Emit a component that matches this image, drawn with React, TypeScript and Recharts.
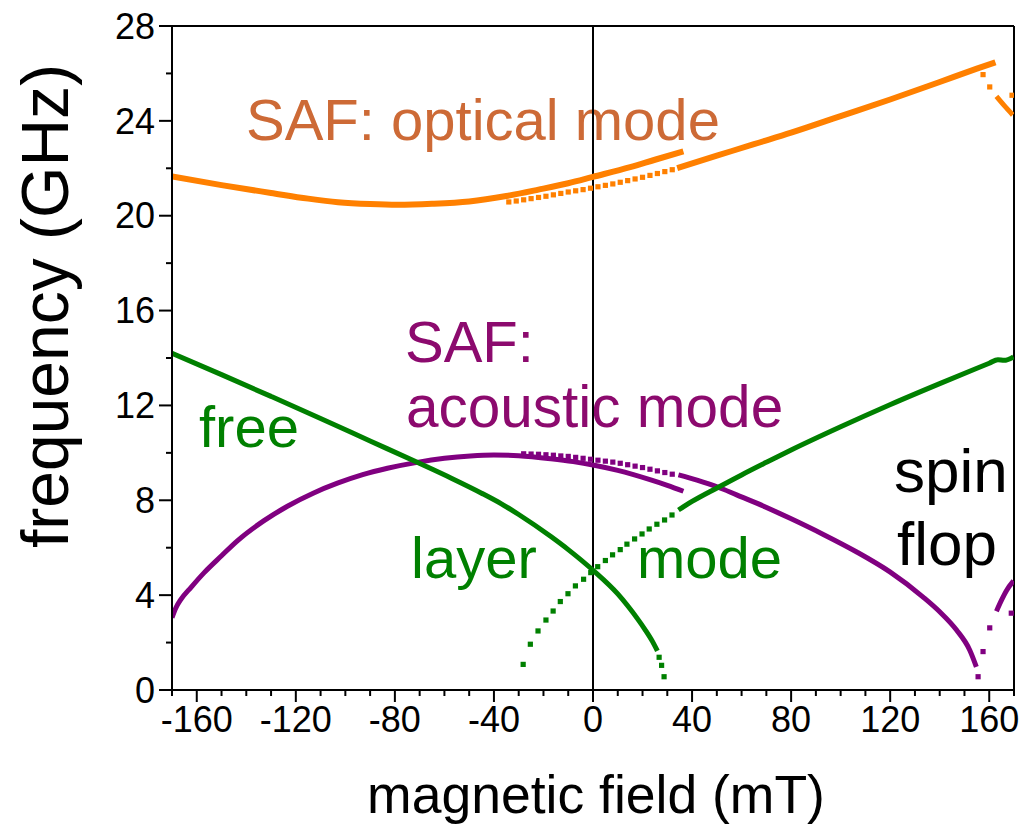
import React from 'react';
import { ComposedChart, Line, Scatter, XAxis, YAxis, ReferenceLine } from 'recharts';

const FONT = "'Liberation Sans', Arial, Helvetica, sans-serif";

// axis ticks
const xTicks = [-170, -160, -150, -140, -130, -120, -110, -100, -90, -80, -70, -60, -50, -40, -30, -20, -10, 0, 10, 20, 30, 40, 50, 60, 70, 80, 90, 100, 110, 120, 130, 140, 150, 160, 170];
const xMajor = [-160, -120, -80, -40, 0, 40, 80, 120, 160];
const yTicks = [0, 2, 4, 6, 8, 10, 12, 14, 16, 18, 20, 22, 24, 26, 28];
const yMajor = [0, 4, 8, 12, 16, 20, 24, 28];

// SAF optical mode (orange)
const orangeUpper = [
  { x: -170, y: 21.66 }, { x: -150, y: 21.29 }, { x: -130, y: 20.96 }, { x: -115, y: 20.72 },
  { x: -103, y: 20.57 }, { x: -90, y: 20.49 }, { x: -79, y: 20.46 }, { x: -65, y: 20.5 },
  { x: -50, y: 20.6 }, { x: -35, y: 20.83 }, { x: -22, y: 21.1 }, { x: -10, y: 21.37 },
  { x: 0, y: 21.64 }, { x: 15, y: 22.05 }, { x: 25, y: 22.36 }, { x: 36.5, y: 22.71 },
];
const orangeLowerDots = [
  { x: -34, y: 20.58 }, { x: -31, y: 20.62 }, { x: -28, y: 20.67 }, { x: -25, y: 20.72 },
  { x: -22, y: 20.77 }, { x: -19, y: 20.82 }, { x: -16, y: 20.88 }, { x: -13, y: 20.94 },
  { x: -10, y: 21.0 }, { x: -7, y: 21.05 }, { x: -4, y: 21.1 }, { x: -1, y: 21.16 },
  { x: 2, y: 21.22 }, { x: 5, y: 21.28 }, { x: 8, y: 21.34 }, { x: 11, y: 21.41 },
  { x: 14, y: 21.48 }, { x: 17, y: 21.55 }, { x: 20, y: 21.62 }, { x: 23, y: 21.7 },
  { x: 26, y: 21.78 }, { x: 29, y: 21.86 }, { x: 32, y: 21.94 },
];
const orangeHigh = [
  { x: 34, y: 22.01 }, { x: 50, y: 22.53 }, { x: 65, y: 23.02 }, { x: 80, y: 23.5 },
  { x: 100, y: 24.2 }, { x: 120, y: 24.9 }, { x: 140, y: 25.64 }, { x: 155, y: 26.2 },
  { x: 162.5, y: 26.47 },
];
const orangeDropDots = [{ x: 157.5, y: 25.95 }, { x: 160.2, y: 25.43 }, { x: 169.2, y: 25.08 }];
const orangeDropLine = [{ x: 162.9, y: 25.03 }, { x: 166, y: 24.65 }, { x: 169.5, y: 24.25 }];

// free layer mode (green)
const greenFree = [
  { x: -170, y: 14.2 }, { x: -150, y: 13.3 }, { x: -130, y: 12.38 }, { x: -110, y: 11.45 },
  { x: -90, y: 10.5 }, { x: -71, y: 9.6 }, { x: -57, y: 8.92 }, { x: -45, y: 8.3 },
  { x: -37, y: 7.85 }, { x: -30, y: 7.4 }, { x: -17, y: 6.47 }, { x: -10, y: 5.92 },
  { x: 0, y: 5.05 }, { x: 10, y: 4.05 }, { x: 14, y: 3.55 }, { x: 18, y: 3.0 },
  { x: 21, y: 2.55 }, { x: 24, y: 2.05 }, { x: 26, y: 1.65 },
];
const greenFreeDots = [{ x: 26.7, y: 1.38 }, { x: 27.7, y: 1.04 }, { x: 28.7, y: 0.56 }];
const greenRiseDots = [
  { x: -28.2, y: 1.08 }, { x: -25.3, y: 1.93 }, { x: -22.2, y: 2.49 }, { x: -19, y: 2.95 },
  { x: -16.1, y: 3.33 }, { x: -13.2, y: 3.73 }, { x: -10.1, y: 4.06 }, { x: -7.1, y: 4.39 },
  { x: -3.8, y: 4.67 }, { x: -0.9, y: 4.95 }, { x: 1.9, y: 5.2 }, { x: 5, y: 5.46 },
  { x: 7.9, y: 5.7 }, { x: 11, y: 5.92 }, { x: 13.7, y: 6.15 }, { x: 16.8, y: 6.37 },
  { x: 19.8, y: 6.58 }, { x: 22.7, y: 6.79 }, { x: 25.8, y: 6.99 }, { x: 28.9, y: 7.17 },
  { x: 31.9, y: 7.38 },
];
const greenHigh = [
  { x: 34.5, y: 7.59 }, { x: 40, y: 7.95 }, { x: 50.6, y: 8.55 }, { x: 60, y: 9.07 },
  { x: 70, y: 9.6 }, { x: 79.6, y: 10.1 }, { x: 100, y: 11.1 }, { x: 119.9, y: 12.03 },
  { x: 140, y: 12.92 }, { x: 160, y: 13.78 }, { x: 163.5, y: 13.93 }, { x: 166, y: 13.9 },
  { x: 169.8, y: 14.05 },
];

// SAF acoustic mode (purple)
const purpleLeft = [
  { x: -170, y: 3.05 }, { x: -168.5, y: 3.45 }, { x: -166.4, y: 3.82 }, { x: -162.3, y: 4.33 },
  { x: -157, y: 4.95 }, { x: -150, y: 5.66 }, { x: -143.5, y: 6.3 }, { x: -133, y: 7.13 },
  { x: -123.4, y: 7.75 }, { x: -113, y: 8.3 }, { x: -103.2, y: 8.72 }, { x: -93, y: 9.08 },
  { x: -83, y: 9.35 }, { x: -71, y: 9.6 }, { x: -60, y: 9.77 }, { x: -49.5, y: 9.87 },
  { x: -40, y: 9.91 }, { x: -30, y: 9.88 }, { x: -17, y: 9.75 }, { x: -8, y: 9.63 },
  { x: 0, y: 9.49 }, { x: 10, y: 9.26 }, { x: 23, y: 8.87 }, { x: 30, y: 8.63 },
  { x: 36.5, y: 8.38 },
];
const purpleDots = [
  { x: -28, y: 9.96 }, { x: -25, y: 9.95 }, { x: -22, y: 9.94 }, { x: -19, y: 9.92 },
  { x: -16, y: 9.9 }, { x: -13, y: 9.87 }, { x: -10, y: 9.85 }, { x: -7, y: 9.81 },
  { x: -4, y: 9.77 }, { x: -1, y: 9.73 }, { x: 2, y: 9.69 }, { x: 5, y: 9.65 },
  { x: 8, y: 9.61 }, { x: 11, y: 9.56 }, { x: 14, y: 9.5 }, { x: 17, y: 9.44 },
  { x: 20, y: 9.38 }, { x: 23, y: 9.31 }, { x: 26, y: 9.24 }, { x: 29, y: 9.17 },
  { x: 32, y: 9.1 },
];
const purpleMid = [
  { x: 34.5, y: 9.07 }, { x: 42, y: 8.85 }, { x: 50.6, y: 8.55 }, { x: 58, y: 8.23 },
  { x: 66.1, y: 7.88 }, { x: 79.6, y: 7.24 }, { x: 93, y: 6.56 }, { x: 106.5, y: 5.82 },
  { x: 119.9, y: 4.98 }, { x: 133.3, y: 3.92 }, { x: 140, y: 3.3 }, { x: 146.8, y: 2.53 },
  { x: 152.1, y: 1.69 }, { x: 154.8, y: 0.98 },
];
const purpleEndDots = [{ x: 155.5, y: 0.56 }, { x: 157.5, y: 1.62 }, { x: 160.2, y: 2.62 }, { x: 168.9, y: 3.24 }];
const purpleSpinLine = [{ x: 162.9, y: 3.32 }, { x: 165, y: 3.8 }, { x: 167, y: 4.2 }, { x: 169.8, y: 4.6 }];

const ORANGE = '#FF8000';
const ORANGE_TEXT = '#CD6A36';
const GREEN = '#008000';
const PURPLE = '#800080';
const PURPLE_TEXT = '#8C0A6E';

const XTick = (props: any) => {
  const { x, y, payload } = props;
  const v = payload.value;
  const major = xMajor.includes(v);
  return (
    <g>
      <line x1={x} x2={x} y1={y} y2={y + (major ? 12 : 6)} stroke="#000" strokeWidth={2} />
      {major && (
        <text x={x} y={y + 16} dy="0.71em" textAnchor="middle" fontSize={36} fontFamily={FONT} fill="#000">
          {String(v)}
        </text>
      )}
    </g>
  );
};

const YTick = (props: any) => {
  const { x, y, payload } = props;
  const v = payload.value;
  const major = yMajor.includes(v);
  return (
    <g>
      <line x1={x} x2={x - (major ? 13 : 6)} y1={y} y2={y} stroke="#000" strokeWidth={2} />
      {major && (
        <text x={x - 17} y={y} dy="0.355em" textAnchor="end" fontSize={36} fontFamily={FONT} fill="#000">
          {String(v)}
        </text>
      )}
    </g>
  );
};

const square = (color: string) => (p: any) => (
  <rect x={p.cx - 2.6} y={p.cy - 2.6} width={5.2} height={5.2} fill={color} />
);

export default function App() {
  return (
    <div style={{ position: 'absolute', left: 0, top: 0, width: 1020, height: 830, background: '#fff' }}>
      <ComposedChart width={1020} height={830} margin={{ top: 26, right: 6, bottom: 80, left: 112 }}>
        <XAxis
          type="number"
          dataKey="x"
          domain={[-170, 170]}
          ticks={xTicks}
          interval={0}
          tickSize={0}
          tickMargin={0}
          tick={<XTick />}
          axisLine={{ stroke: '#000', strokeWidth: 2 }}
          height={60}
          allowDataOverflow
        />
        <YAxis
          type="number"
          dataKey="y"
          domain={[0, 28]}
          ticks={yTicks}
          interval={0}
          tickSize={0}
          tickMargin={0}
          tick={<YTick />}
          axisLine={{ stroke: '#000', strokeWidth: 2 }}
          width={60}
          allowDataOverflow
        />
        <ReferenceLine y={28} stroke="#000" strokeWidth={2} />
        <ReferenceLine x={170} stroke="#000" strokeWidth={2} />
        <ReferenceLine x={0} stroke="#000" strokeWidth={2} />

        <Line data={purpleLeft} dataKey="y" type="monotone" stroke={PURPLE} strokeWidth={5} dot={false} isAnimationActive={false} />
        <Line data={purpleMid} dataKey="y" type="monotone" stroke={PURPLE} strokeWidth={5} dot={false} isAnimationActive={false} />
        <Line data={purpleSpinLine} dataKey="y" type="monotone" stroke={PURPLE} strokeWidth={5} dot={false} isAnimationActive={false} />
        <Scatter data={purpleDots} fill={PURPLE} shape={square(PURPLE)} isAnimationActive={false} />
        <Scatter data={purpleEndDots} fill={PURPLE} shape={square(PURPLE)} isAnimationActive={false} />

        <Line data={greenFree} dataKey="y" type="monotone" stroke={GREEN} strokeWidth={5} dot={false} isAnimationActive={false} />
        <Line data={greenHigh} dataKey="y" type="monotone" stroke={GREEN} strokeWidth={5} dot={false} isAnimationActive={false} />
        <Scatter data={greenFreeDots} fill={GREEN} shape={square(GREEN)} isAnimationActive={false} />
        <Scatter data={greenRiseDots} fill={GREEN} shape={square(GREEN)} isAnimationActive={false} />

        <Line data={orangeUpper} dataKey="y" type="monotone" stroke={ORANGE} strokeWidth={6} dot={false} isAnimationActive={false} />
        <Line data={orangeHigh} dataKey="y" type="monotone" stroke={ORANGE} strokeWidth={6} dot={false} isAnimationActive={false} />
        <Line data={orangeDropLine} dataKey="y" type="monotone" stroke={ORANGE} strokeWidth={5} dot={false} isAnimationActive={false} />
        <Scatter data={orangeLowerDots} fill={ORANGE} shape={square(ORANGE)} isAnimationActive={false} />
        <Scatter data={orangeDropDots} fill={ORANGE} shape={square(ORANGE)} isAnimationActive={false} />

        <text x={246} y={140} fontSize={58} fontFamily={FONT} fill={ORANGE_TEXT}>SAF: optical mode</text>
        <text x={405} y={362} fontSize={58} fontFamily={FONT} fill={PURPLE_TEXT}>SAF:</text>
        <text x={406} y={427} fontSize={58.5} fontFamily={FONT} fill={PURPLE_TEXT}>acoustic mode</text>
        <text x={199} y={447} fontSize={58} fontFamily={FONT} fill={GREEN}>free</text>
        <text x={411} y={578} fontSize={58} fontFamily={FONT} fill={GREEN}>layer</text>
        <text x={637} y={578} fontSize={58} fontFamily={FONT} fill={GREEN}>mode</text>
        <text x={894} y={492} fontSize={62} fontFamily={FONT} fill="#000">spin</text>
        <text x={897} y={565} fontSize={62} fontFamily={FONT} fill="#000">flop</text>

        <text x={596} y={813} textAnchor="middle" fontSize={53.5} fontFamily={FONT} fill="#000">magnetic field (mT)</text>
        <text x={0} y={0} transform="translate(68, 306) rotate(-90)" textAnchor="middle" fontSize={66} fontFamily={FONT} fill="#000">frequency (GHz)</text>
      </ComposedChart>
    </div>
  );
}
